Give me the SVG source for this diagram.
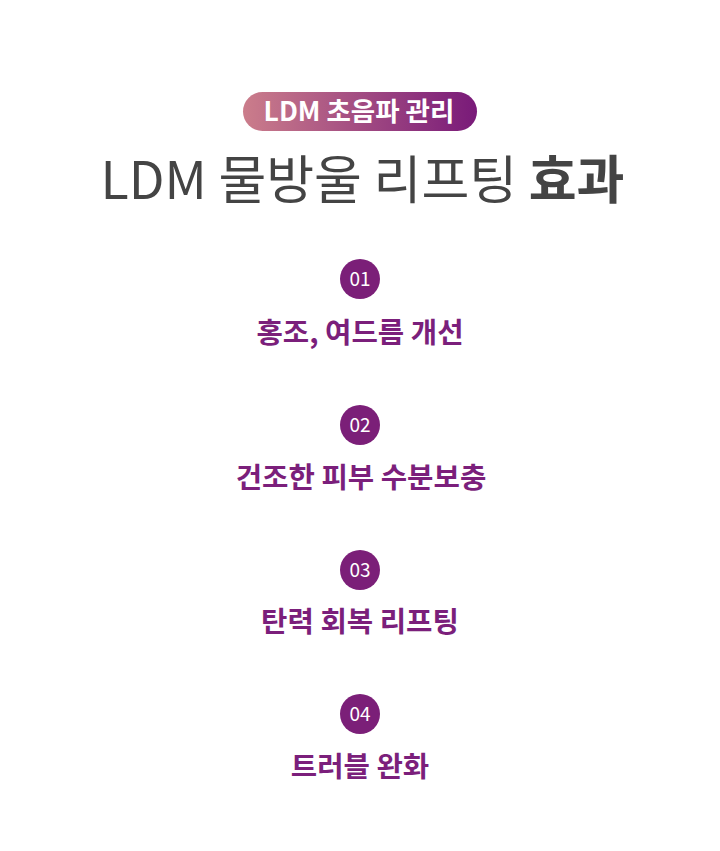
<svg xmlns="http://www.w3.org/2000/svg" width="720" height="851" viewBox="0 0 720 851">
<defs>
<linearGradient id="pg" x1="0" y1="0" x2="1" y2="0">
<stop offset="0" stop-color="#cb7d8b"/>
<stop offset="1" stop-color="#791a79"/>
</linearGradient>
<style>
.k{font-family:"Noto Sans CJK KR","Noto Sans",sans-serif}
.num{font-family:"Noto Sans CJK KR","Noto Sans",sans-serif;font-size:19px;fill:#fff;text-anchor:middle}
.lab{font-family:"Noto Sans CJK KR",sans-serif;font-size:28.7px;font-weight:700;fill:#7b1f7b;text-anchor:middle}
.dot{fill:#7b1f78}
</style>
</defs>
<rect width="720" height="851" fill="#fff"/>
<g id="badge">
<rect x="243" y="92" width="234" height="39" rx="19.5" fill="url(#pg)"/>
<text x="359" y="121" class="k" font-size="26.5" font-weight="700" fill="#fff" text-anchor="middle">LDM 초음파 관리</text>
</g>
<g id="title">
<text x="362.5" y="199" class="k" font-size="52" fill="#444" text-anchor="middle">LDM 물방울 리프팅 <tspan font-weight="700">효과</tspan></text>
</g>
<g id="item1">
<circle cx="360" cy="279" r="20" class="dot"/>
<text x="360" y="286" class="num">01</text>
<text x="360" y="343" class="lab">홍조, 여드름 개선</text>
</g>
<g id="item2">
<circle cx="360" cy="425" r="20" class="dot"/>
<text x="360" y="432" class="num">02</text>
<text x="361" y="488" class="lab">건조한 피부 수분보충</text>
</g>
<g id="item3">
<circle cx="360" cy="570" r="20" class="dot"/>
<text x="360" y="577" class="num">03</text>
<text x="360" y="632" class="lab">탄력 회복 리프팅</text>
</g>
<g id="item4">
<circle cx="360" cy="714" r="20" class="dot"/>
<text x="360" y="721" class="num">04</text>
<text x="360" y="777" class="lab">트러블 완화</text>
</g>
<g id="connectors"/>
</svg>
